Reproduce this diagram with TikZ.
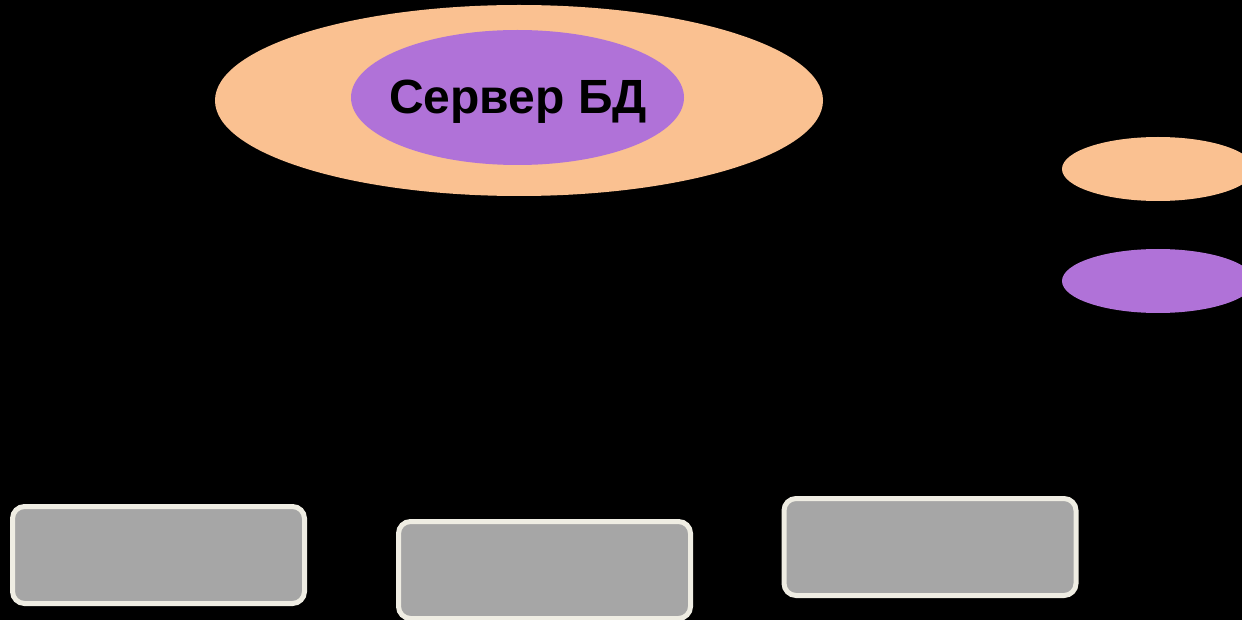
\documentclass[tikz,border=0pt]{standalone}
\usepackage{fontspec}
\setmainfont{Liberation Sans}
\usetikzlibrary{shapes.geometric}
\definecolor{peach}{HTML}{FAC191}
\definecolor{lilac}{HTML}{B072D8}
\definecolor{boxgrey}{HTML}{A6A6A6}
\definecolor{cream}{HTML}{EFEDE3}
\tikzset{
  ell/.style={ellipse, inner sep=0pt, outer sep=0pt, draw=none},
  clientbox/.style={rounded corners=12pt, fill=boxgrey, draw=cream, line width=5pt,
    minimum width=292pt, minimum height=97pt, inner sep=0pt, outer sep=0pt},
  servertext/.style={font=\fontsize{48pt}{56pt}\selectfont\bfseries, inner sep=0pt}
}
\begin{document}
\begin{tikzpicture}[x=1pt,y=-1pt]
\useasboundingbox (0,0) rectangle (1242,620);
\clip (0,0) rectangle (1242,620);
\fill[black] (0,0) rectangle (1242,620);
\node[ell, fill=peach, minimum width=608pt, minimum height=191pt] (outer) at (519,100.5) {};
\node[ell, fill=lilac, minimum width=333pt, minimum height=135pt] (inner) at (517.5,97.5) {};
\node[servertext] (label) at (518,102) {Сервер БД};
\node[ell, fill=peach, minimum width=192pt, minimum height=64pt] (legA) at (1158,169) {};
\node[ell, fill=lilac, minimum width=192pt, minimum height=64pt] (legB) at (1158,281) {};
\node[clientbox] (c1) at (158.5,555) {};
\node[clientbox] (c2) at (544.5,570) {};
\node[clientbox] (c3) at (930,547) {};
\end{tikzpicture}
\end{document}
